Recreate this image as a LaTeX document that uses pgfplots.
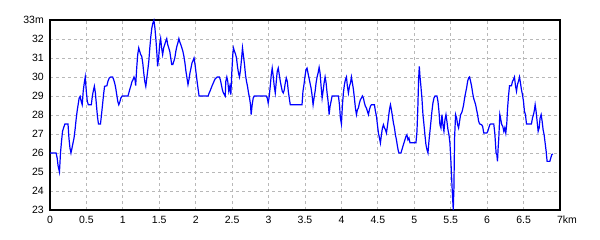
\documentclass[border=0pt]{standalone}
\usepackage{pgfplots}
\pgfplotsset{compat=1.18}
\usepackage{fontspec}
\setmainfont{Liberation Sans}
\begin{document}
\fontsize{10.5}{12}\selectfont
\begin{tikzpicture}
\useasboundingbox (-50pt,-30pt) rectangle (550pt,210pt);
\begin{axis}[
  at={(0,0)}, anchor=south west,
  scale only axis, width=510pt, height=190pt,
  xmin=0, xmax=7, ymin=23, ymax=33,
  xtick={0,0.5,...,7}, ytick={23,24,...,33},
  xticklabels={0,0.5,1,1.5,2,2.5,3,3.5,4,4.5,5,5.5,6,6.5,7\rlap{km}},
  yticklabels={23,24,25,26,27,28,29,30,31,32,33m},
  major tick length=0pt,
  grid=major,
  major grid style={color=black!28, dash pattern=on 3pt off 3pt, line width=0.8pt},
  axis line style={black, line width=1.3pt},
  yticklabel style={anchor=east, inner sep=0pt, xshift=-6pt, font=\fontsize{10.5}{12}\selectfont},
  xticklabel style={anchor=north, inner sep=0pt, yshift=-6pt, font=\fontsize{10.5}{12}\selectfont},
  /pgf/number format/assume math mode=true,
  clip=false,
  axis on top=false,
]
\addplot[color=blue, line width=1.2pt, mark=none] coordinates {
(0,26.0)(0.084,26.0)(0.098,25.74)(0.112,25.30)(0.130,25.0)(0.144,26.0)(0.158,26.61)(0.172,27.14)(0.186,27.32)(0.205,27.53)(0.247,27.53)(0.260,26.79)(0.274,26.26)(0.288,26.0)(0.302,26.26)(0.316,26.53)(0.330,26.79)(0.344,27.23)(0.358,27.75)(0.372,28.19)(0.386,28.54)(0.400,28.89)(0.414,28.98)(0.428,28.72)(0.442,28.54)(0.456,29.25)(0.470,29.68)(0.484,30.0)(0.498,29.25)(0.512,28.72)(0.526,28.54)(0.567,28.54)(0.581,28.98)(0.595,29.28)(0.609,29.51)(0.623,29.16)(0.637,28.54)(0.651,27.93)(0.665,27.53)(0.693,27.53)(0.707,28.02)(0.721,28.54)(0.735,29.07)(0.749,29.51)(0.781,29.54)(0.795,29.77)(0.814,29.95)(0.833,30.0)(0.860,30.0)(0.874,29.86)(0.888,29.68)(0.902,29.42)(0.916,29.07)(0.930,28.72)(0.944,28.54)(0.958,28.68)(0.972,28.89)(0.991,29.0)(1.070,29.0)(1.084,29.19)(1.098,29.39)(1.112,29.56)(1.126,29.77)(1.140,29.86)(1.153,30.0)(1.167,29.86)(1.176,29.55)(1.190,30.47)(1.204,31.18)(1.218,31.53)(1.231,31.35)(1.245,31.18)(1.259,31.09)(1.273,30.74)(1.287,30.21)(1.301,29.77)(1.315,29.51)(1.329,29.95)(1.343,30.39)(1.356,30.82)(1.370,31.53)(1.384,32.14)(1.398,32.58)(1.412,32.84)(1.426,32.98)(1.440,32.58)(1.454,31.96)(1.468,31.18)(1.477,30.56)(1.491,31.0)(1.505,31.70)(1.519,32.02)(1.532,31.53)(1.546,31.18)(1.560,31.53)(1.574,31.70)(1.588,31.88)(1.602,32.02)(1.616,31.70)(1.630,31.53)(1.644,31.35)(1.657,31.0)(1.671,30.65)(1.685,30.65)(1.699,30.82)(1.713,31.0)(1.727,31.35)(1.741,31.61)(1.755,31.79)(1.769,32.02)(1.782,31.84)(1.796,31.70)(1.810,31.53)(1.824,31.35)(1.838,31.09)(1.852,30.74)(1.866,30.30)(1.880,29.95)(1.894,29.60)(1.907,29.86)(1.921,30.21)(1.935,30.47)(1.949,30.74)(1.963,30.86)(1.977,31.0)(1.991,30.65)(2.005,30.21)(2.019,29.77)(2.032,29.39)(2.046,29.0)(2.171,29.0)(2.185,29.16)(2.199,29.28)(2.213,29.42)(2.227,29.56)(2.241,29.68)(2.255,29.81)(2.269,29.91)(2.296,30.0)(2.324,30.0)(2.338,29.86)(2.352,29.60)(2.366,29.33)(2.380,29.16)(2.394,29.07)(2.405,29.0)(2.413,29.77)(2.427,30.0)(2.440,29.77)(2.454,29.25)(2.468,29.51)(2.482,29.07)(2.495,30.21)(2.509,31.18)(2.518,31.53)(2.532,31.35)(2.546,31.21)(2.560,31.0)(2.573,30.56)(2.587,30.21)(2.601,30.0)(2.615,30.39)(2.628,30.91)(2.642,31.53)(2.656,31.09)(2.670,30.65)(2.683,30.12)(2.697,29.77)(2.711,29.51)(2.725,29.16)(2.739,28.89)(2.752,28.54)(2.761,28.02)(2.775,28.54)(2.789,28.89)(2.803,29.0)(2.968,29.0)(2.982,28.89)(2.995,28.63)(3.009,28.98)(3.023,29.51)(3.037,30.12)(3.050,30.47)(3.064,30.04)(3.078,29.51)(3.092,29.16)(3.106,29.77)(3.119,30.30)(3.133,30.47)(3.147,30.12)(3.161,29.77)(3.174,29.51)(3.188,29.25)(3.202,29.16)(3.216,29.33)(3.229,29.68)(3.243,29.95)(3.257,29.77)(3.271,29.25)(3.284,28.89)(3.298,28.54)(3.459,28.54)(3.472,29.25)(3.486,29.60)(3.500,30.04)(3.514,30.39)(3.528,30.47)(3.541,30.21)(3.555,29.95)(3.569,29.68)(3.583,29.42)(3.596,29.07)(3.611,28.54)(3.624,28.89)(3.639,29.25)(3.652,29.68)(3.666,30.0)(3.680,30.21)(3.694,30.51)(3.707,30.21)(3.721,29.51)(3.735,28.89)(3.748,29.25)(3.762,29.68)(3.776,30.0)(3.790,29.68)(3.803,29.16)(3.817,28.72)(3.831,28.02)(3.844,28.46)(3.858,28.72)(3.872,29.0)(3.959,29.0)(3.973,28.54)(3.986,27.84)(4.0,27.53)(4.014,28.54)(4.027,29.16)(4.041,29.60)(4.055,29.86)(4.069,30.0)(4.082,29.51)(4.096,29.16)(4.110,29.51)(4.124,29.68)(4.137,30.0)(4.151,29.68)(4.165,29.33)(4.178,28.89)(4.192,28.37)(4.206,28.02)(4.220,28.28)(4.233,28.37)(4.247,28.63)(4.261,28.81)(4.274,28.89)(4.288,29.0)(4.302,28.89)(4.316,28.63)(4.329,28.46)(4.343,28.37)(4.357,28.19)(4.371,28.02)(4.384,28.28)(4.398,28.46)(4.412,28.54)(4.453,28.54)(4.467,28.19)(4.481,27.93)(4.494,27.49)(4.508,27.05)(4.522,26.79)(4.535,26.53)(4.549,26.96)(4.563,27.32)(4.577,27.49)(4.590,27.32)(4.604,27.23)(4.618,27.05)(4.631,27.40)(4.645,27.84)(4.659,28.28)(4.673,28.54)(4.686,28.28)(4.700,27.93)(4.714,27.58)(4.728,27.32)(4.741,26.96)(4.755,26.70)(4.769,26.35)(4.782,26.09)(4.790,26.0)(4.817,26.0)(4.831,26.18)(4.844,26.35)(4.858,26.53)(4.872,26.70)(4.886,26.88)(4.899,26.96)(4.913,26.70)(4.927,26.79)(4.941,26.54)(5.023,26.54)(5.037,27.14)(5.050,28.54)(5.059,29.86)(5.069,30.56)(5.078,30.04)(5.091,29.51)(5.105,28.89)(5.119,28.02)(5.133,27.49)(5.146,26.96)(5.160,26.44)(5.174,26.18)(5.188,26.0)(5.201,26.61)(5.215,27.14)(5.229,27.67)(5.242,28.19)(5.256,28.63)(5.270,28.89)(5.284,29.0)(5.311,29.0)(5.325,28.72)(5.339,28.19)(5.352,27.49)(5.366,27.32)(5.380,28.02)(5.393,27.49)(5.407,27.14)(5.421,27.75)(5.435,28.02)(5.448,27.67)(5.462,27.23)(5.476,26.96)(5.489,26.53)(5.503,25.56)(5.517,24.33)(5.526,23.63)(5.535,23.0)(5.544,24.16)(5.553,26.79)(5.567,28.02)(5.581,27.84)(5.595,27.49)(5.608,27.32)(5.622,27.67)(5.636,28.02)(5.650,28.11)(5.663,28.28)(5.677,28.54)(5.691,28.89)(5.704,29.16)(5.718,29.42)(5.732,29.77)(5.746,29.95)(5.759,30.0)(5.773,29.77)(5.787,29.51)(5.801,29.16)(5.814,28.89)(5.828,28.72)(5.842,28.54)(5.855,28.28)(5.869,28.02)(5.883,27.67)(5.897,27.53)(5.924,27.49)(5.938,27.40)(5.954,27.05)(5.995,27.05)(6.009,27.14)(6.023,27.32)(6.037,27.49)(6.050,27.53)(6.091,27.53)(6.105,27.05)(6.114,26.53)(6.123,26.0)(6.133,25.91)(6.142,25.56)(6.151,26.26)(6.160,26.79)(6.174,28.02)(6.188,27.75)(6.201,27.49)(6.215,27.40)(6.229,27.14)(6.242,27.32)(6.256,27.05)(6.270,27.58)(6.279,28.28)(6.293,28.98)(6.307,29.54)(6.334,29.54)(6.348,29.77)(6.361,29.86)(6.375,30.0)(6.389,29.54)(6.403,29.25)(6.416,29.60)(6.430,29.77)(6.444,30.0)(6.458,29.68)(6.471,29.33)(6.485,29.07)(6.499,28.72)(6.512,28.19)(6.526,28.02)(6.540,27.53)(6.608,27.53)(6.622,27.84)(6.636,28.02)(6.650,28.28)(6.659,28.54)(6.672,28.19)(6.686,27.67)(6.700,27.14)(6.714,27.32)(6.727,27.84)(6.741,28.02)(6.755,27.67)(6.768,27.23)(6.782,26.96)(6.796,26.53)(6.810,26.09)(6.823,25.56)(6.860,25.56)(6.874,25.74)(6.887,25.91)(6.901,25.95)
};
\end{axis}
\end{tikzpicture}
\end{document}
